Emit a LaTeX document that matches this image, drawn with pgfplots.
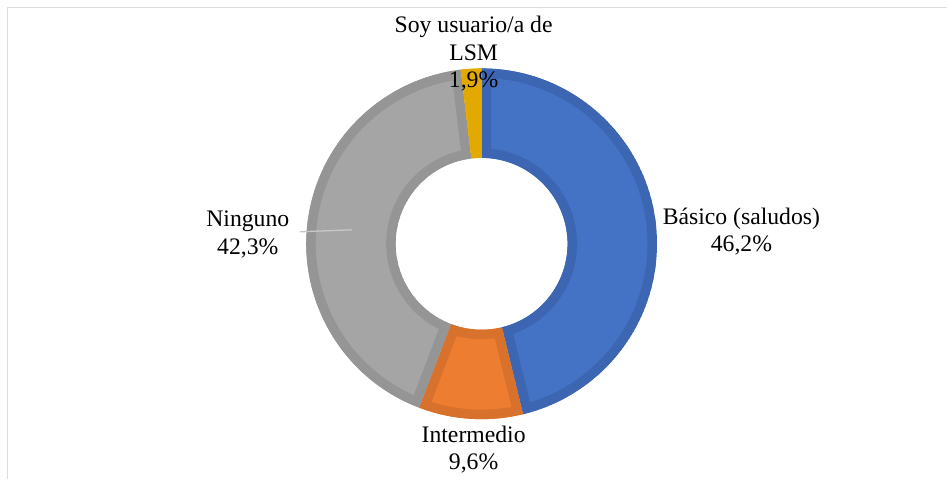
\documentclass[border=0pt]{standalone}
\usepackage{pgfplots}
\pgfplotsset{compat=1.18}
\usepackage{fontspec}
\setmainfont{Liberation Serif}
\definecolor{cBlue}{HTML}{4472C4}\definecolor{dBlue}{HTML}{3D66B2}
\definecolor{cOrange}{HTML}{ED7D31}\definecolor{dOrange}{HTML}{D8712B}
\definecolor{cGray}{HTML}{A5A5A5}\definecolor{dGray}{HTML}{959595}
\definecolor{cGold}{HTML}{F0B400}\definecolor{dGold}{HTML}{E2A900}
\definecolor{frame}{HTML}{DDDDDD}
\def\Rout{175.5bp}\def\Rin{86bp}
\tikzset{lbl/.style={font=\fontsize{23.7bp}{27bp}\selectfont,text=black,inner sep=0pt,anchor=base}}
% #1 cumulative start (%), #2 value (%), #3 fill, #4 border
\newcommand\slice[4]{\pgfplotsextra{%
  \pgfmathsetmacro\sa{90-3.6*(#1)}%
  \pgfmathsetmacro\sb{90-3.6*((#1)+(#2))}%
  \def\slicepath{([shift={(\sa:\Rout)}]axis cs:482,235) arc[start angle=\sa,end angle=\sb,radius=\Rout] -- ([shift={(\sb:\Rin)}]axis cs:482,235) arc[start angle=\sb,end angle=\sa,radius=\Rin] -- cycle}%
  \begin{scope}
    \clip \slicepath;
    \fill[#3] \slicepath;
    \draw[#4,line width=19bp,line join=miter] \slicepath;
  \end{scope}}}
\begin{document}
\begin{tikzpicture}
\begin{axis}[x=1bp,y=1bp,xmin=0,xmax=948,ymin=0,ymax=479,hide axis,clip=false]
\path (axis cs:0,0) rectangle (axis cs:948,479);
% frame
\addplot[frame,line width=1.5bp] coordinates {(7.5,0) (7.5,471.5) (948,471.5)};
% slices: Básico 46.2, Intermedio 9.6, Ninguno 42.3, Soy usuario 1.9
\slice{0}{46.2}{cBlue}{dBlue}
\slice{46.2}{9.6}{cOrange}{dOrange}
\slice{55.8}{42.3}{cGray}{dGray}
\slice{98.1}{1.9}{cGold}{dGold}
% leader line
\addplot[color=black!22,line width=1.3bp] coordinates {(300,247) (352,249)};
% labels
\node[lbl] at (axis cs:474,446) {Soy usuario/a de};
\node[lbl] at (axis cs:474,418.5) {LSM};
\node[lbl] at (axis cs:474,391) {1,9\%};
\node[lbl] at (axis cs:742,254) {Básico (saludos)};
\node[lbl] at (axis cs:742,227) {46,2\%};
\node[lbl] at (axis cs:248,252) {Ninguno};
\node[lbl] at (axis cs:248,224.5) {42,3\%};
\node[lbl] at (axis cs:474,36) {Intermedio};
\node[lbl] at (axis cs:474,9) {9,6\%};
\end{axis}
\end{tikzpicture}
\end{document}
